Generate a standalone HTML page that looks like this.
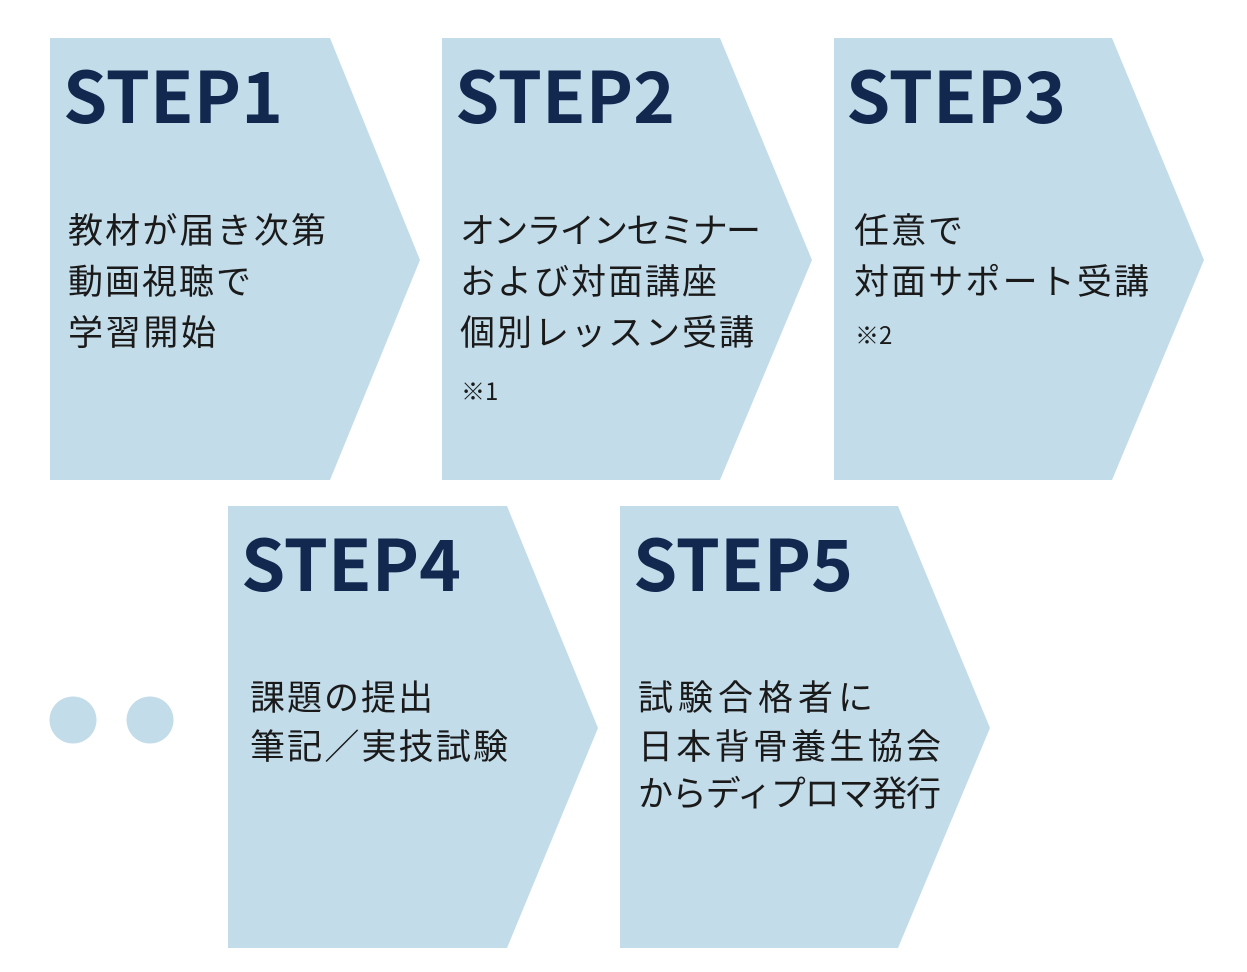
<!DOCTYPE html>
<html><head><meta charset="utf-8"><style>
html,body{margin:0;padding:0;background:#fff;}
svg{display:block}
.t{font-family:"Noto Sans CJK JP",sans-serif;font-weight:700;font-size:71px;fill:#13284f;}
.j{font-family:"Noto Sans CJK JP",sans-serif;font-size:35px;fill:#1a1a1a}
.s{font-family:"Noto Sans CJK JP",sans-serif;font-size:24px;fill:#1a1a1a}
</style></head><body>
<svg width="1247" height="972" viewBox="0 0 1247 972" xmlns="http://www.w3.org/2000/svg">
<g fill="#c3dcea">
<polygon points="50,38 330,38 420,260 330,480 50,480"/>
<polygon points="442,38 720,38 812,260 720,480 442,480"/>
<polygon points="834,38 1112,38 1204,260 1112,480 834,480"/>
<polygon points="228,506 507,506 598,728 507,948 228,948"/>
<polygon points="620,506 898,506 990,728 898,948 620,948"/>
<circle cx="73" cy="720" r="23.5"/>
<circle cx="150" cy="720" r="23.5"/>
</g>
<text class="t" x="63" y="123">STEP1</text>
<text class="t" x="455" y="123">STEP2</text>
<text class="t" x="846" y="123">STEP3</text>
<text class="t" x="241" y="591">STEP4</text>
<text class="t" x="633" y="591">STEP5</text>

<text class="j" x="68" y="243" textLength="258" lengthAdjust="spacing">教材が届き次第</text>
<text class="j" x="68" y="294" textLength="183" lengthAdjust="spacing">動画視聴で</text>
<text class="j" x="68" y="345" textLength="148" lengthAdjust="spacing">学習開始</text>

<text class="j" x="460" y="243" textLength="301" lengthAdjust="spacing">オンラインセミナー</text>
<text class="j" x="460" y="294" textLength="257" lengthAdjust="spacing">および対面講座</text>
<text class="j" x="460" y="345" textLength="294" lengthAdjust="spacing">個別レッスン受講</text>

<text class="j" x="854" y="243" textLength="109" lengthAdjust="spacing">任意で</text>
<text class="j" x="854" y="294" textLength="295" lengthAdjust="spacing">対面サポート受講</text>

<text class="j" x="250" y="710" textLength="183" lengthAdjust="spacing">課題の提出</text>
<text class="j" x="250" y="759" textLength="258" lengthAdjust="spacing">筆記／実技試験</text>

<text class="j" x="638" y="710" textLength="235" lengthAdjust="spacing">試験合格者に</text>
<text class="j" x="638" y="759" textLength="303" lengthAdjust="spacing">日本背骨養生協会</text>
<text class="j" x="638" y="806" textLength="303" lengthAdjust="spacing">からディプロマ発行</text>

<text class="s" x="461" y="400">※1</text>
<text class="s" x="855" y="344">※2</text>
</svg>
</body></html>
